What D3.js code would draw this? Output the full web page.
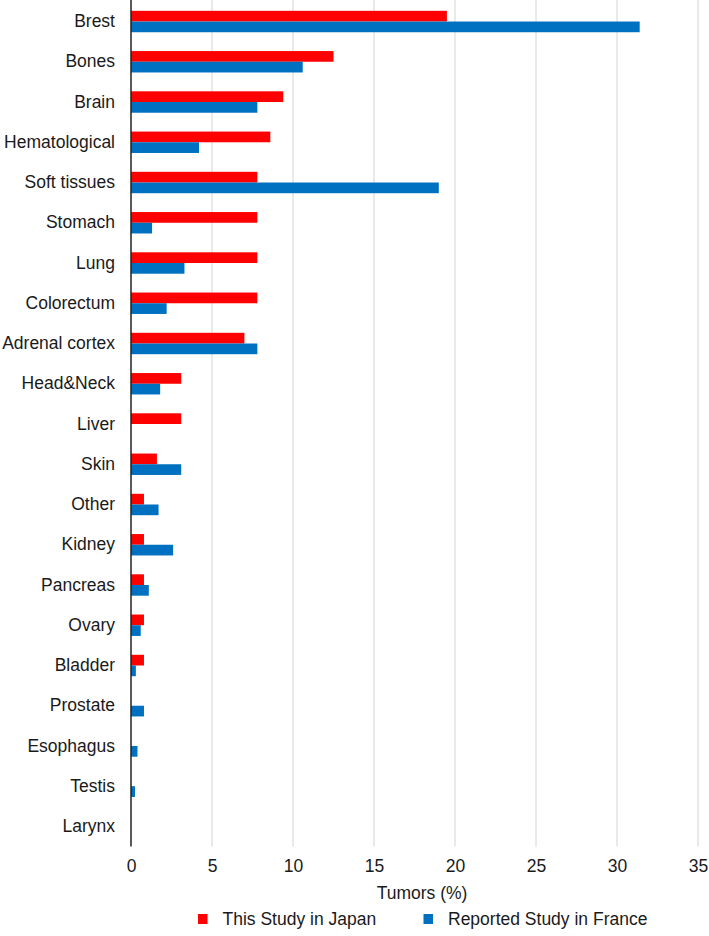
<!DOCTYPE html>
<html>
<head>
<meta charset="utf-8">
<script src="https://cdn.jsdelivr.net/npm/d3@7"></script>
<style>
  html, body { margin: 0; padding: 0; background: #fff; }
  svg { display: block; font-family: "Liberation Sans", Arial, sans-serif; }
</style>
</head>
<body>
<script>
// tumour sites, top to bottom
const categories = ['Brest', 'Bones', 'Brain', 'Hematological', 'Soft tissues', 'Stomach', 'Lung',
  'Colorectum', 'Adrenal cortex', 'Head&Neck', 'Liver', 'Skin', 'Other', 'Kidney', 'Pancreas',
  'Ovary', 'Bladder', 'Prostate', 'Esophagus', 'Testis', 'Larynx'];

const japan = [19.5, 12.5, 9.4, 8.6, 7.8, 7.8, 7.8, 7.8, 7.0, 3.1, 3.1, 1.6, 0.8, 0.8, 0.8,
  0.8, 0.8, 0, 0, 0, 0];
const france = [31.4, 10.6, 7.8, 4.2, 19.0, 1.3, 3.3, 2.2, 7.8, 1.8, 0, 3.1, 1.7, 2.6, 1.1,
  0.6, 0.3, 0.8, 0.4, 0.25, 0];

const seriesNames = ['This Study in Japan', 'Reported Study in France'];
const seriesColors = ['#ff0000', '#0070c0'];
const xTicks = [0, 5, 10, 15, 20, 25, 30, 35];

const W = 709, H = 936;
const plotLeft = 131, plotRight = 698, plotTop = 1.4, plotBottom = 846.6;
const fontSize = 17.5;
const textColor = '#1a1a1a';

const svg = d3.select('body').append('svg')
  .attr('width', W)
  .attr('height', H);

const x = d3.scaleLinear().domain([0, 35]).range([plotLeft, plotRight]);

const y = d3.scaleBand()
  .domain(categories)
  .range([plotTop, plotBottom])
  .paddingInner(0.468)
  .paddingOuter(0.234);

const ySub = d3.scaleBand()
  .domain(seriesNames)
  .range([0, y.bandwidth()]);

// gridlines
svg.append('g')
  .selectAll('line')
  .data(xTicks.slice(1))
  .join('line')
  .attr('x1', d => x(d))
  .attr('x2', d => x(d))
  .attr('y1', 0)
  .attr('y2', plotBottom)
  .attr('stroke', '#d4d4d4')
  .attr('stroke-width', 1);

const rows = categories.map((c, i) => ({ cat: c, vals: [japan[i], france[i]] }));

svg.append('g')
  .selectAll('g')
  .data(rows)
  .join('g')
  .attr('transform', d => `translate(0,${y(d.cat)})`)
  .selectAll('rect')
  .data(d => d.vals.map((v, k) => ({ v, k })))
  .join('rect')
  .attr('x', x(0))
  .attr('y', d => ySub(seriesNames[d.k]))
  .attr('width', d => x(d.v) - x(0))
  .attr('height', ySub.bandwidth())
  .attr('fill', d => seriesColors[d.k]);

// category axis
const yAxis = svg.append('g')
  .attr('transform', `translate(${plotLeft},0)`)
  .call(d3.axisLeft(y).tickSize(0).tickPadding(16));
yAxis.select('.domain').remove();
yAxis.selectAll('text')
  .attr('font-size', fontSize)
  .attr('fill', textColor)
  .attr('font-family', '"Liberation Sans", Arial, sans-serif');

svg.append('line')
  .attr('x1', plotLeft).attr('x2', plotLeft)
  .attr('y1', 0).attr('y2', plotBottom)
  .attr('stroke', '#222')
  .attr('stroke-width', 1.5);

// value axis
const xAxis = svg.append('g')
  .attr('transform', `translate(0,${plotBottom})`)
  .call(d3.axisBottom(x).tickValues(xTicks).tickSize(0).tickPadding(13));
xAxis.select('.domain').remove();
xAxis.selectAll('text')
  .attr('font-size', fontSize)
  .attr('fill', textColor)
  .attr('font-family', '"Liberation Sans", Arial, sans-serif');

svg.append('text')
  .attr('x', 422)
  .attr('y', 899)
  .attr('text-anchor', 'middle')
  .attr('font-size', fontSize)
  .attr('fill', textColor)
  .text('Tumors (%)');

// legend
const legendX = [198, 423.5];
const legend = svg.append('g')
  .selectAll('g')
  .data(seriesNames)
  .join('g')
  .attr('transform', (d, i) => `translate(${legendX[i]},919)`);
legend.append('rect')
  .attr('x', 0).attr('y', -5)
  .attr('width', 9.5).attr('height', 10)
  .attr('fill', (d, i) => seriesColors[i]);
legend.append('text')
  .attr('x', 24.5).attr('y', 6.2)
  .attr('font-size', fontSize)
  .attr('fill', textColor)
  .text(d => d);
</script>
</body>
</html>
